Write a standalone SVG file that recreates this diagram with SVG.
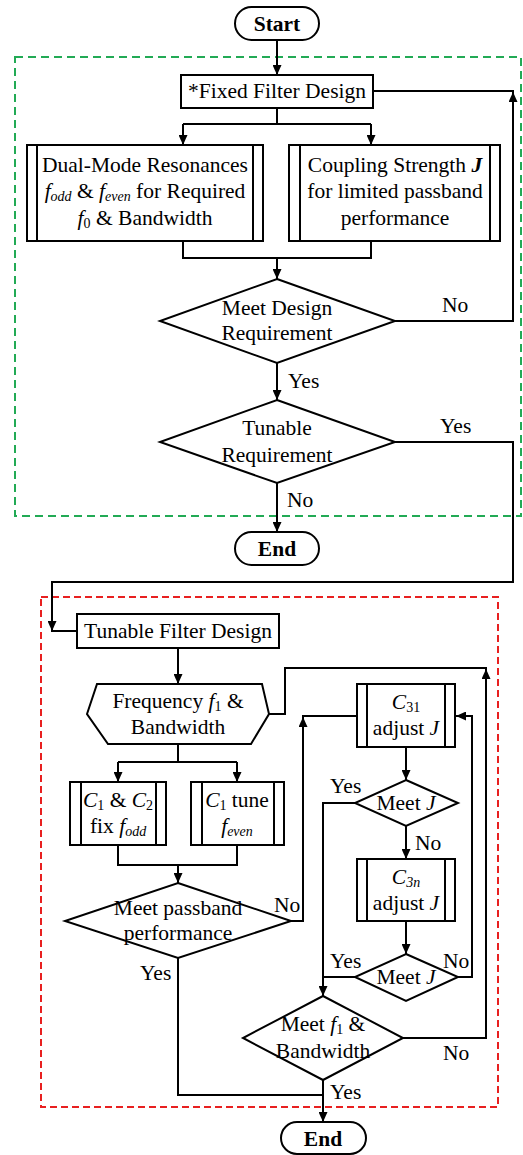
<svg xmlns="http://www.w3.org/2000/svg" width="523" height="1155" viewBox="0 0 523 1155">
<style>
.s{fill:#fff;stroke:#000;stroke-width:2}
.l{fill:none;stroke:#000;stroke-width:2}
.t{font-family:"Liberation Serif","Times New Roman",serif;font-size:21.5px;fill:#000}
.c{text-anchor:middle}
.b{font-weight:bold}
.i{font-style:italic}
.sub{font-size:14px}
.g{fill:none;stroke:#22aa55;stroke-width:2;stroke-dasharray:8 5}
.r{fill:none;stroke:#e82020;stroke-width:2;stroke-dasharray:7 4}
</style>
<defs>
<marker id="ah" markerWidth="10" markerHeight="9" refX="10" refY="4.5" orient="auto" markerUnits="userSpaceOnUse">
<path d="M0,0 L10,4.5 L0,9 z" fill="#000"/>
</marker>
</defs>
<rect class="g" x="15" y="57" width="506" height="459"/>
<rect class="r" x="41" y="597" width="457" height="510"/>
<g id="connectors">
<path class="l" d="M277,40 V75" marker-end="url(#ah)"/>
<path class="l" d="M277,108 V124 M183,124 H371"/>
<path class="l" d="M183,124 V145" marker-end="url(#ah)"/>
<path class="l" d="M371,124 V145" marker-end="url(#ah)"/>
<path class="l" d="M373,91 H514"/>
<path class="l" d="M395,321 H513 V92" marker-end="url(#ah)"/>
<path class="l" d="M183,241 V258 H371 V241"/>
<path class="l" d="M277,258 V279" marker-end="url(#ah)"/>
<path class="l" d="M277,363 V400" marker-end="url(#ah)"/>
<path class="l" d="M277,483 V532" marker-end="url(#ah)"/>
<path class="l" d="M395,442 H513 V582 H52 V631" marker-end="url(#ah)"/>
<path class="l" d="M77,631 H51"/>
<path class="l" d="M178,648 V684" marker-end="url(#ah)"/>
<path class="l" d="M269,714 H285 V668 H487"/>
<path class="l" d="M178,744 V762 M118,762 H237"/>
<path class="l" d="M118,762 V782" marker-end="url(#ah)"/>
<path class="l" d="M237,762 V782" marker-end="url(#ah)"/>
<path class="l" d="M118,845 V865 H237 V845"/>
<path class="l" d="M178,865 V883" marker-end="url(#ah)"/>
<path class="l" d="M291,921 H303 V717" marker-end="url(#ah)"/>
<path class="l" d="M357,716 H302"/>
<path class="l" d="M178,958 V1095 H323"/>
<path class="l" d="M406,747 V780" marker-end="url(#ah)"/>
<path class="l" d="M355,803 H323 V996" marker-end="url(#ah)"/>
<path class="l" d="M406,826 V859" marker-end="url(#ah)"/>
<path class="l" d="M406,921 V954" marker-end="url(#ah)"/>
<path class="l" d="M355,977 H323"/>
<path class="l" d="M458,977 H472 V716 H456" marker-end="url(#ah)"/>
<path class="l" d="M403,1038 H486 V669" marker-end="url(#ah)"/>
<path class="l" d="M323,1080 V1122" marker-end="url(#ah)"/>
</g>
<g id="start">
<rect class="s" x="235" y="7" width="84" height="33" rx="16.5"/>
<text class="t c b" x="277" y="31">Start</text>
</g>
<g id="fixed">
<rect class="s" x="181" y="75" width="192" height="33"/>
<text class="t c" x="277" y="98">*Fixed Filter Design</text>
</g>
<g id="dualmode">
<rect class="s" x="27" y="145" width="236" height="96"/>
<path class="l" d="M37,145 V241 M253,145 V241"/>
<text class="t c" x="145" y="172">Dual-Mode Resonances</text>
<text class="t c" x="145" y="198"><tspan class="i">f</tspan><tspan class="sub i" dy="3">odd</tspan><tspan dy="-3"> &amp; </tspan><tspan class="i">f</tspan><tspan class="sub i" dy="3">even</tspan><tspan dy="-3"> for Required</tspan></text>
<text class="t c" x="145" y="225"><tspan class="i">f</tspan><tspan class="sub" dy="3">0</tspan><tspan dy="-3"> &amp; Bandwidth</tspan></text>
</g>
<g id="coupling">
<rect class="s" x="289" y="145" width="211" height="96"/>
<path class="l" d="M300,145 V241 M490,145 V241"/>
<text class="t c" x="395" y="172">Coupling Strength <tspan class="i b">J</tspan></text>
<text class="t c" x="395" y="198">for limited passband</text>
<text class="t c" x="395" y="225">performance</text>
</g>
<g id="meetdesign">
<polygon class="s" points="277,279 395,321 277,363 160,321"/>
<text class="t c" x="277" y="315">Meet Design</text>
<text class="t c" x="277" y="340">Requirement</text>
</g>
<g id="tunablereq">
<polygon class="s" points="277,400 395,442 277,483 160,442"/>
<text class="t c" x="277" y="435">Tunable</text>
<text class="t c" x="277" y="462">Requirement</text>
</g>
<g id="end1">
<rect class="s" x="235" y="532" width="84" height="33" rx="16.5"/>
<text class="t c b" x="277" y="556">End</text>
</g>
<g id="tunabledesign">
<rect class="s" x="77" y="614" width="202" height="34"/>
<text class="t c" x="178" y="638">Tunable Filter Design</text>
</g>
<g id="frequency">
<polygon class="s" points="97,684 262,684 269,714 251,744 108,744 87,714"/>
<text class="t c" x="178" y="708">Frequency <tspan class="i">f</tspan><tspan class="sub" dy="3">1</tspan><tspan dy="-3"> &amp;</tspan></text>
<text class="t c" x="178" y="734">Bandwidth</text>
</g>
<g id="c1c2">
<rect class="s" x="70" y="782" width="96" height="63"/>
<path class="l" d="M81,782 V845 M156,782 V845"/>
<text class="t c" x="118" y="807"><tspan class="i">C</tspan><tspan class="sub" dy="3">1</tspan><tspan dy="-3"> &amp; </tspan><tspan class="i">C</tspan><tspan class="sub" dy="3">2</tspan></text>
<text class="t c" x="118" y="833">fix <tspan class="i">f</tspan><tspan class="sub i" dy="3">odd</tspan></text>
</g>
<g id="c1tune">
<rect class="s" x="191" y="782" width="93" height="63"/>
<path class="l" d="M202,782 V845 M274,782 V845"/>
<text class="t c" x="237" y="807"><tspan class="i">C</tspan><tspan class="sub" dy="3">1</tspan><tspan dy="-3"> tune</tspan></text>
<text class="t c" x="237" y="833"><tspan class="i">f</tspan><tspan class="sub i" dy="3">even</tspan></text>
</g>
<g id="passband">
<polygon class="s" points="178,883 291,921 178,958 65,921"/>
<text class="t c" x="178" y="915">Meet passband</text>
<text class="t c" x="178" y="940">performance</text>
</g>
<g id="c31">
<rect class="s" x="357" y="684" width="98" height="63"/>
<path class="l" d="M367,684 V747 M445,684 V747"/>
<text class="t c" x="406" y="709"><tspan class="i">C</tspan><tspan class="sub" dy="3">31</tspan></text>
<text class="t c" x="406" y="735">adjust <tspan class="i">J</tspan></text>
</g>
<g id="meetj1">
<polygon class="s" points="406,780 458,803 406,826 355,803"/>
<text class="t c" x="406" y="810">Meet <tspan class="i">J</tspan></text>
</g>
<g id="c3n">
<rect class="s" x="357" y="859" width="98" height="62"/>
<path class="l" d="M367,859 V921 M445,859 V921"/>
<text class="t c" x="406" y="884"><tspan class="i">C</tspan><tspan class="sub i" dy="3">3n</tspan></text>
<text class="t c" x="406" y="910">adjust <tspan class="i">J</tspan></text>
</g>
<g id="meetj2">
<polygon class="s" points="406,954 458,977 406,1001 355,977"/>
<text class="t c" x="406" y="984">Meet <tspan class="i">J</tspan></text>
</g>
<g id="meetf1">
<polygon class="s" points="323,996 403,1038 323,1080 243,1038"/>
<text class="t c" x="323" y="1031">Meet <tspan class="i">f</tspan><tspan class="sub" dy="3">1</tspan><tspan dy="-3"> &amp;</tspan></text>
<text class="t c" x="323" y="1058">Bandwidth</text>
</g>
<g id="end2">
<rect class="s" x="281" y="1122" width="85" height="32" rx="16"/>
<text class="t c b" x="323" y="1146">End</text>
</g>
<g id="labels">
<text class="t" x="442" y="312">No</text>
<text class="t" x="288" y="388">Yes</text>
<text class="t" x="440" y="433">Yes</text>
<text class="t" x="287" y="507">No</text>
<text class="t" x="274" y="912">No</text>
<text class="t" x="140" y="980">Yes</text>
<text class="t" x="330" y="793">Yes</text>
<text class="t" x="415" y="850">No</text>
<text class="t" x="330" y="968">Yes</text>
<text class="t" x="443" y="968">No</text>
<text class="t" x="443" y="1060">No</text>
<text class="t" x="330" y="1099">Yes</text>
</g>
</svg>
